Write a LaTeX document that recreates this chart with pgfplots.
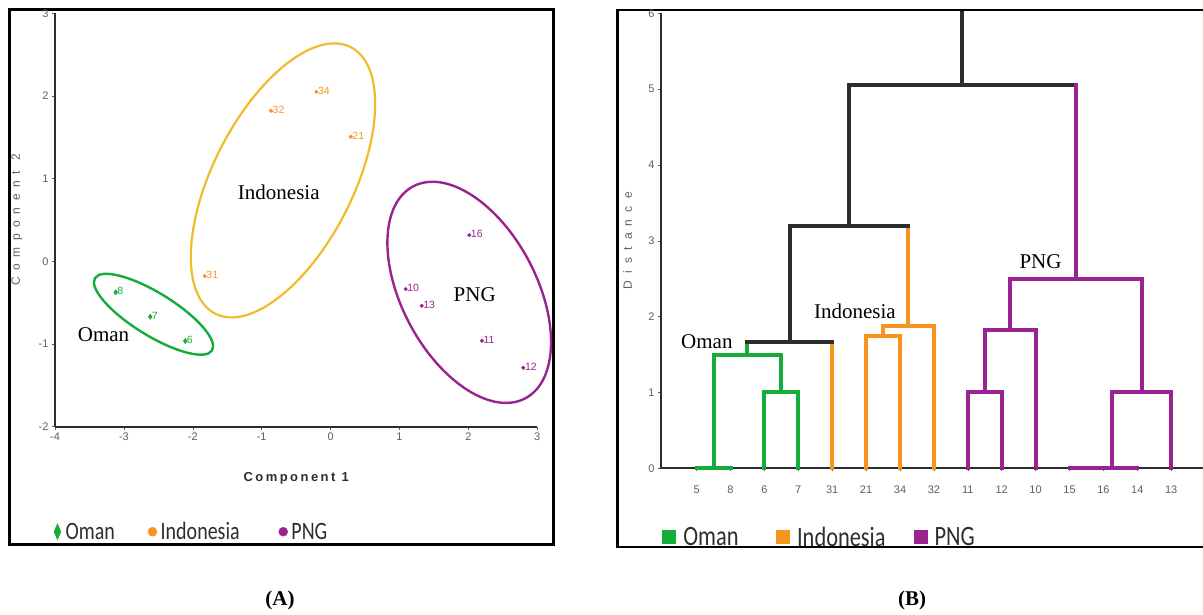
\documentclass[border=0pt]{standalone}
\usepackage{fontspec}
\setmainfont{Liberation Serif}
\setsansfont{Liberation Sans}
\newfontfamily\legfont[FakeStretch=0.8]{Carlito}
\usepackage{pgfplots}
\pgfplotsset{compat=1.18}
\definecolor{omg}{RGB}{22,172,58}
\definecolor{ing}{RGB}{247,148,29}
\definecolor{iel}{RGB}{240,188,45}
\definecolor{png}{RGB}{155,35,145}
\definecolor{dk}{RGB}{45,45,45}
\definecolor{tk}{RGB}{95,95,95}
\begin{document}
\begin{tikzpicture}
\useasboundingbox (0pt,0pt) rectangle (1203pt,614pt);
% panel frames
\draw[line width=2.6pt, black] (9.5pt,604.5pt) rectangle (553.5pt,69.5pt);
\draw[line width=2.6pt, black] (1215pt,604pt) -- (617.5pt,604pt) -- (617.5pt,67pt) -- (1215pt,67pt);
% ---------------- (A) PCA scatter ----------------
\begin{axis}[
  at={(55pt,187.3pt)}, anchor=south west, scale only axis,
  width=482.3pt, height=413.4pt,
  xmin=-4, xmax=3, ymin=-2, ymax=3,
  axis lines=left, axis line style={-, line width=1.6pt, dk},
  xtick={-4,...,3}, ytick={-2,...,3},
  tick style={tk, line width=0.5pt}, tick align=outside, major tick length=3pt,
  ticklabel style={font=\sffamily\fontsize{11}{11}\selectfont, text=tk},
  /pgf/number format/assume math mode=true,
  clip=false,
  xlabel={\addfontfeatures{LetterSpace=19}\bfseries Component 1},
  xlabel style={at={(axis description cs:0.5,-0.1258)}, anchor=center, font=\sffamily\fontsize{13}{13}\selectfont, text=dk},
  ylabel={\addfontfeatures{LetterSpace=55}Component 2},
  ylabel style={at={(axis description cs:-0.0788,0.5)}, anchor=center, font=\sffamily\fontsize{12}{12}\selectfont, text=tk},
  legend style={at={(axis description cs:-0.004,-0.254)}, anchor=west, draw=none, fill=none,
    legend columns=3, inner sep=0pt, nodes={inner sep=2pt, text=dk},
    font=\legfont\fontsize{25}{25}\selectfont,
    /tikz/column 2/.style={column sep=31pt},
    /tikz/column 4/.style={column sep=37pt}},
  legend image code/.code={\draw[mark repeat=2,mark phase=2,#1] plot coordinates {(0pt,0pt) (4pt,0pt) (8pt,0pt)}; \path (0pt,0pt) (10pt,0pt);},
  nodes near coords, point meta=explicit symbolic,
]
\addplot[only marks, mark=diamond*, mark size=2.6pt, omg,
  nodes near coords style={anchor=west, xshift=0pt, yshift=1pt, inner sep=1.5pt, font=\sffamily\fontsize{10.5}{10.5}\selectfont, text=omg},
  legend image post style={mark size=8pt, mark options={xscale=0.58}}]
  table[meta=lab] {
x y lab
-3.119 -0.375 8
-2.617 -0.670 7
-2.109 -0.964 6
};
\addlegendentry{Oman}
\addplot[only marks, mark=*, mark size=1.8pt, ing,
  nodes near coords style={anchor=west, xshift=0pt, yshift=1pt, inner sep=1.5pt, font=\sffamily\fontsize{10.5}{10.5}\selectfont, text=ing},
  legend image post style={mark size=4.5pt}]
  table[meta=lab] {
x y lab
-1.827 -0.178 31
-0.865 1.821 32
-0.207 2.051 34
0.292 1.507 21
};
\addlegendentry{Indonesia}
\addplot[only marks, mark=*, mark size=1.8pt, png,
  nodes near coords style={anchor=west, xshift=0pt, yshift=1pt, inner sep=1.5pt, font=\sffamily\fontsize{10.5}{10.5}\selectfont, text=png},
  legend image post style={mark size=4.5pt}]
  table[meta=lab] {
x y lab
2.013 0.318 16
1.090 -0.335 10
1.322 -0.537 13
2.197 -0.960 11
2.797 -1.287 12
};
\addlegendentry{PNG}
% cluster ellipses
\draw[omg, line width=2.4pt, rotate around={-31.7:(axis cs:-2.570,-0.640)}] (axis cs:-2.570,-0.640) ellipse [x radius=68.8pt, y radius=21.3pt];
\draw[iel, line width=2.2pt, rotate around={63.05:(axis cs:-0.691,0.979)}] (axis cs:-0.691,0.979) ellipse [x radius=149.5pt, y radius=70.1pt];
\draw[png, line width=2.4pt, rotate around={-62.1:(axis cs:2.012,-0.375)}] (axis cs:2.012,-0.375) ellipse [x radius=119.9pt, y radius=67.4pt];
\node[font=\fontsize{21}{21}\selectfont] at (axis cs:-0.752,0.829) {Indonesia};
\node[font=\fontsize{21}{21}\selectfont] at (axis cs:2.091,-0.399) {PNG};
\node[font=\fontsize{21}{21}\selectfont] at (axis cs:-3.296,-0.885) {Oman};
\end{axis}
% ---------------- (B) dendrogram ----------------
\begin{axis}[
  at={(661pt,145.7pt)}, anchor=south west, scale only axis,
  width=544.1pt, height=455pt,
  xmin=-1.05, xmax=15, ymin=0, ymax=6,
  axis lines=left, axis line style={-, line width=2pt, dk},
  xtick={0,...,14},
  xticklabels={5,8,6,7,31,21,34,32,11,12,10,15,16,14,13},
  ytick={0,...,6},
  tick style={tk, line width=0.5pt}, tick align=outside, major tick length=3pt,
  ticklabel style={font=\sffamily\fontsize{11}{11}\selectfont, text=tk},
  xticklabel style={yshift=-11pt},
  /pgf/number format/assume math mode=true,
  clip=false,
  ylabel={\addfontfeatures{LetterSpace=60}Distance},
  ylabel style={at={(axis description cs:-0.0616,0.5)}, anchor=center, font=\sffamily\fontsize{12}{12}\selectfont, text=tk},
  legend style={at={(axis description cs:0.004,-0.1516)}, anchor=west, draw=none, fill=none,
    legend columns=3, inner sep=0pt, nodes={inner sep=2pt, text=dk},
    font=\legfont\fontsize{28}{28}\selectfont,
    /tikz/column 2/.style={column sep=36.5pt},
    /tikz/column 4/.style={column sep=27pt}},
  legend image code/.code={\draw[mark repeat=2,mark phase=2,#1] plot coordinates {(0pt,0pt) (4pt,0pt) (8pt,0pt)}; \path (0pt,0pt) (14pt,0pt);},
  every axis plot/.append style={line width=4pt, line join=miter, line cap=rect, forget plot},
]
% Oman (green)
\addplot[omg] coordinates {(0,0) (1,0)};
\addplot[omg] coordinates {(0.5,0) (0.5,1.5) (2.5,1.5) (2.5,1.0)};
\addplot[omg] coordinates {(2,0) (2,1) (3,1) (3,0)};
\addplot[omg] coordinates {(1.5,1.5) (1.5,1.667)};
% Indonesia (orange)
\addplot[ing] coordinates {(4,0) (4,1.667)};
\addplot[ing] coordinates {(5,0) (5,1.75) (6,1.75) (6,0)};
\addplot[ing] coordinates {(5.5,1.75) (5.5,1.88) (7,1.88) (7,0)};
\addplot[ing] coordinates {(6.25,1.88) (6.25,3.2)};
% PNG (purple)
\addplot[png] coordinates {(8,0) (8,1) (9,1) (9,0)};
\addplot[png] coordinates {(8.5,1) (8.5,1.83) (10,1.83) (10,0)};
\addplot[png] coordinates {(11,0) (13,0)};
\addplot[png] coordinates {(12.25,0) (12.25,1) (14,1) (14,0)};
\addplot[png] coordinates {(9.25,1.83) (9.25,2.5) (13.125,2.5) (13.125,1)};
% upper links (black)
\addplot[dk] coordinates {(1.5,1.667) (4,1.667)};
\addplot[dk] coordinates {(2.75,1.667) (2.75,3.2) (6.25,3.2)};
\addplot[dk] coordinates {(4.5,3.2) (4.5,5.05) (11.19,5.05)};
\addplot[dk] coordinates {(7.84,5.05) (7.84,6)};
\addplot[png] coordinates {(11.19,2.5) (11.19,5.05)};
\addlegendimage{only marks, mark=square*, mark size=5pt, omg}
\addlegendimage{only marks, mark=square*, mark size=5pt, ing}
\addlegendimage{only marks, mark=square*, mark size=5pt, png}
\legend{Oman,Indonesia,PNG}
\node[font=\fontsize{21}{21}\selectfont] at (axis cs:0.304,1.675) {Oman};
\node[font=\fontsize{21}{21}\selectfont] at (axis cs:4.670,2.064) {Indonesia};
\node[font=\fontsize{21}{21}\selectfont] at (axis cs:10.145,2.724) {PNG};
\end{axis}
% panel captions
\node[font=\bfseries\fontsize{21}{21}\selectfont] at (280pt,14pt) {(A)};
\node[font=\bfseries\fontsize{21}{21}\selectfont] at (912pt,14pt) {(B)};
\end{tikzpicture}
\end{document}
